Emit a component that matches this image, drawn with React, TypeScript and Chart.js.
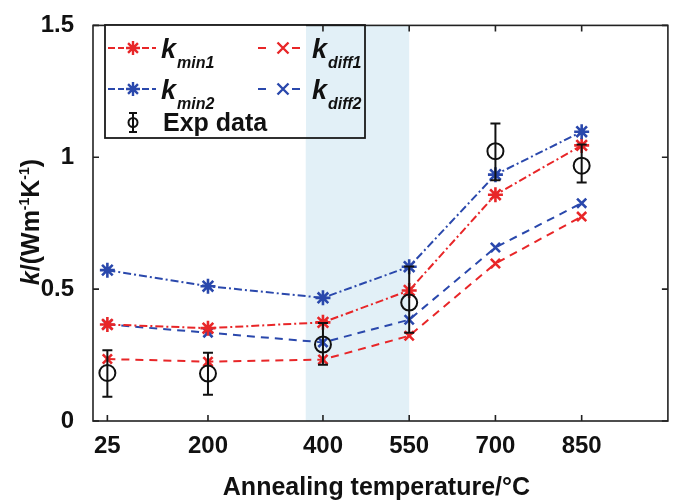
import React, { useEffect, useRef } from "react";
import { Chart, registerables } from "chart.js";

Chart.register(...registerables);

// Annealing temperatures (°C) and thermal conductivity values (W m^-1 K^-1)
const temperatures = [25, 200, 400, 550, 700, 850];
const kMin1 = [0.366, 0.352, 0.374, 0.495, 0.858, 1.045];
const kMin2 = [0.572, 0.511, 0.467, 0.585, 0.934, 1.097];
const kDiff1 = [0.235, 0.225, 0.233, 0.323, 0.597, 0.775];
const kDiff2 = [0.366, 0.335, 0.298, 0.384, 0.658, 0.826];
const expMean = [0.182, 0.18, 0.29, 0.449, 1.023, 0.968];
const expLow = [0.092, 0.1, 0.213, 0.335, 0.913, 0.904];
const expHigh = [0.268, 0.259, 0.372, 0.586, 1.128, 1.048];
const yTicks = [0, 0.5, 1, 1.5];
const shadedRange = [370, 550];

const FONT = "Arial, 'Liberation Sans', Helvetica, sans-serif";
const RED = "rgb(232, 38, 40)";
const BLUE = "rgb(42, 72, 172)";
const SHADE = "rgb(226, 240, 247)";
const INK = "#111111";
const DASH_DOT = [8, 3, 2, 3];
const DASHED = [8, 6];

const pts = (vals: number[]) => temperatures.map((t, i) => ({ x: t, y: vals[i] }));

function drawStar(ctx: CanvasRenderingContext2D, x: number, y: number, r: number, color: string) {
  ctx.save();
  ctx.strokeStyle = color;
  ctx.lineWidth = 2.4;
  ctx.setLineDash([]);
  ctx.beginPath();
  ctx.moveTo(x - r, y); ctx.lineTo(x + r, y);
  ctx.moveTo(x, y - r); ctx.lineTo(x, y + r);
  const d = r * 0.7071;
  ctx.moveTo(x - d, y - d); ctx.lineTo(x + d, y + d);
  ctx.moveTo(x - d, y + d); ctx.lineTo(x + d, y - d);
  ctx.stroke();
  ctx.restore();
}

function drawCross(ctx: CanvasRenderingContext2D, x: number, y: number, r: number, color: string) {
  ctx.save();
  ctx.strokeStyle = color;
  ctx.lineWidth = 2.4;
  ctx.setLineDash([]);
  ctx.beginPath();
  ctx.moveTo(x - r, y - r); ctx.lineTo(x + r, y + r);
  ctx.moveTo(x - r, y + r); ctx.lineTo(x + r, y - r);
  ctx.stroke();
  ctx.restore();
}

// k with an italic subscript, as used by the legend entries
function drawKLabel(ctx: CanvasRenderingContext2D, x: number, baseline: number, sub: string) {
  ctx.save();
  ctx.fillStyle = INK;
  ctx.textAlign = "left";
  ctx.textBaseline = "alphabetic";
  ctx.font = `italic bold 27px ${FONT}`;
  ctx.fillText("k", x, baseline);
  const w = ctx.measureText("k").width;
  ctx.font = `italic bold 16px ${FONT}`;
  ctx.fillText(sub, x + w + 1, baseline + 10);
  ctx.restore();
}

const decorPlugin = {
  id: "decor",
  beforeDatasetsDraw(chart: any) {
    const { ctx, chartArea: a, scales } = chart;
    const x0 = scales.x.getPixelForValue(shadedRange[0]);
    const x1 = scales.x.getPixelForValue(shadedRange[1]);
    ctx.save();
    ctx.fillStyle = SHADE;
    ctx.fillRect(x0, a.top, x1 - x0, a.bottom - a.top);
    ctx.restore();
  },
  afterDatasetsDraw(chart: any) {
    const { ctx, scales } = chart;
    ctx.save();
    ctx.strokeStyle = INK;
    ctx.lineWidth = 2;
    ctx.setLineDash([]);
    temperatures.forEach((t, i) => {
      const px = scales.x.getPixelForValue(t);
      const yl = scales.y.getPixelForValue(expLow[i]);
      const yh = scales.y.getPixelForValue(expHigh[i]);
      ctx.beginPath();
      ctx.moveTo(px, yl); ctx.lineTo(px, yh);
      ctx.moveTo(px - 5, yl); ctx.lineTo(px + 5, yl);
      ctx.moveTo(px - 5, yh); ctx.lineTo(px + 5, yh);
      ctx.stroke();
    });
    ctx.restore();
  },
  afterDraw(chart: any) {
    const { ctx, chartArea: a, scales } = chart;
    ctx.save();

    // axes box with inward ticks
    ctx.strokeStyle = "#222";
    ctx.lineWidth = 1.6;
    ctx.setLineDash([]);
    ctx.strokeRect(a.left, a.top, a.right - a.left, a.bottom - a.top);
    ctx.beginPath();
    temperatures.forEach((t) => {
      const px = scales.x.getPixelForValue(t);
      ctx.moveTo(px, a.bottom); ctx.lineTo(px, a.bottom - 6);
      ctx.moveTo(px, a.top); ctx.lineTo(px, a.top + 6);
    });
    yTicks.forEach((v) => {
      const py = scales.y.getPixelForValue(v);
      ctx.moveTo(a.left, py); ctx.lineTo(a.left + 6, py);
      ctx.moveTo(a.right, py); ctx.lineTo(a.right - 6, py);
    });
    ctx.stroke();

    // legend
    const lx = 105, ly = 25, lw = 260, lh = 113;
    ctx.fillStyle = "#ffffff";
    ctx.fillRect(lx, ly, 201, lh);
    ctx.strokeStyle = "#1a1a1a";
    ctx.lineWidth = 1.8;
    ctx.strokeRect(lx, ly, lw, lh);

    const entries = [
      { x0: 108, x1: 156, mx: 133, y: 48, color: RED, star: true, sub: "min1", tx: 161 },
      { x0: 108, x1: 156, mx: 133, y: 89, color: BLUE, star: true, sub: "min2", tx: 161 },
      { x0: 258, x1: 307, mx: 283, y: 48, color: RED, star: false, sub: "diff1", tx: 312 },
      { x0: 258, x1: 307, mx: 283, y: 89, color: BLUE, star: false, sub: "diff2", tx: 312 },
    ];
    entries.forEach((e) => {
      ctx.save();
      ctx.strokeStyle = e.color;
      ctx.lineWidth = 2;
      ctx.setLineDash(e.star ? [7, 3] : [8, 8]);
      ctx.beginPath();
      ctx.moveTo(e.x0, e.y); ctx.lineTo(e.mx - 9, e.y);
      ctx.moveTo(e.mx + 9, e.y); ctx.lineTo(e.x1, e.y);
      ctx.stroke();
      ctx.restore();
      if (e.star) drawStar(ctx, e.mx, e.y, 7, e.color);
      else drawCross(ctx, e.mx, e.y, 5.5, e.color);
      drawKLabel(ctx, e.tx, e.y + 10, e.sub);
    });

    // experimental data legend marker
    ctx.strokeStyle = INK;
    ctx.lineWidth = 2;
    ctx.setLineDash([]);
    ctx.beginPath();
    ctx.moveTo(133, 113); ctx.lineTo(133, 132);
    ctx.moveTo(129, 113); ctx.lineTo(137, 113);
    ctx.moveTo(129, 132); ctx.lineTo(137, 132);
    ctx.stroke();
    ctx.beginPath();
    ctx.arc(133, 122.5, 4.5, 0, Math.PI * 2);
    ctx.stroke();
    ctx.fillStyle = INK;
    ctx.font = `bold 25px ${FONT}`;
    ctx.textAlign = "left";
    ctx.textBaseline = "alphabetic";
    ctx.fillText("Exp data", 163, 131);

    // x-axis title
    ctx.font = `bold 25px ${FONT}`;
    ctx.textAlign = "center";
    ctx.textBaseline = "middle";
    ctx.fillText("Annealing temperature/°C", (a.left + a.right) / 2 - 4, 488);

    // y-axis title: k/(Wm^-1K^-1)
    const parts = [
      { t: "k", f: `italic bold 25px ${FONT}`, dy: 0 },
      { t: "/(Wm", f: `bold 25px ${FONT}`, dy: 0 },
      { t: "-1", f: `bold 14px ${FONT}`, dy: -10 },
      { t: "K", f: `bold 25px ${FONT}`, dy: 0 },
      { t: "-1", f: `bold 14px ${FONT}`, dy: -10 },
      { t: ")", f: `bold 25px ${FONT}`, dy: 0 },
    ];
    let total = 0;
    parts.forEach((p) => { ctx.font = p.f; total += ctx.measureText(p.t).width; });
    ctx.translate(39, 222);
    ctx.rotate(-Math.PI / 2);
    ctx.textAlign = "left";
    ctx.textBaseline = "alphabetic";
    let cx = -total / 2;
    parts.forEach((p) => {
      ctx.font = p.f;
      ctx.fillText(p.t, cx, p.dy);
      cx += ctx.measureText(p.t).width;
    });
    ctx.restore();
  },
};

export default function App() {
  const canvasRef = useRef<HTMLCanvasElement | null>(null);

  useEffect(() => {
    document.body.style.margin = "0";
    const canvas = canvasRef.current;
    if (!canvas) return;
    const tickFont = { family: FONT, size: 24, weight: "bold" as const };
    const chart = new Chart(canvas, {
      type: "line",
      data: {
        datasets: [
          {
            label: "Exp data",
            data: pts(expMean),
            showLine: false,
            pointStyle: "circle",
            pointRadius: 8,
            pointBorderWidth: 2,
            pointBorderColor: INK,
            pointBackgroundColor: "rgba(0,0,0,0)",
            order: 0,
          },
          {
            label: "k_min2",
            data: pts(kMin2),
            borderColor: BLUE,
            borderWidth: 2,
            borderDash: DASH_DOT,
            pointStyle: "star",
            pointRadius: 7.5,
            pointBorderWidth: 2.6,
            pointBorderColor: BLUE,
            backgroundColor: BLUE,
            order: 1,
          },
          {
            label: "k_min1",
            data: pts(kMin1),
            borderColor: RED,
            borderWidth: 2,
            borderDash: DASH_DOT,
            pointStyle: "star",
            pointRadius: 7.5,
            pointBorderWidth: 2.6,
            pointBorderColor: RED,
            backgroundColor: RED,
            order: 2,
          },
          {
            label: "k_diff2",
            data: pts(kDiff2),
            borderColor: BLUE,
            borderWidth: 2,
            borderDash: DASHED,
            pointStyle: "crossRot",
            pointRadius: 6.5,
            pointBorderWidth: 2.6,
            pointBorderColor: BLUE,
            backgroundColor: BLUE,
            order: 3,
          },
          {
            label: "k_diff1",
            data: pts(kDiff1),
            borderColor: RED,
            borderWidth: 2,
            borderDash: DASHED,
            pointStyle: "crossRot",
            pointRadius: 6.5,
            pointBorderWidth: 2.6,
            pointBorderColor: RED,
            backgroundColor: RED,
            order: 4,
          },
        ],
      },
      options: {
        responsive: false,
        animation: false,
        layout: { padding: { top: 14, right: 6, left: 0, bottom: 0 } },
        plugins: { legend: { display: false }, tooltip: { enabled: false } },
        scales: {
          x: {
            type: "linear",
            min: 0,
            max: 1000,
            grid: { display: false },
            border: { display: false },
            afterBuildTicks: (s: any) => {
              s.ticks = temperatures.map((v) => ({ value: v }));
            },
            afterFit: (s: any) => {
              s.height = 80;
            },
            ticks: {
              font: tickFont,
              color: INK,
              padding: 3,
              maxRotation: 0,
              autoSkip: false,
              callback: (v: any) => String(v),
            },
          },
          y: {
            min: 0,
            max: 1.5,
            grid: { display: false },
            border: { display: false },
            afterBuildTicks: (s: any) => {
              s.ticks = yTicks.map((v) => ({ value: v }));
            },
            afterFit: (s: any) => {
              s.width = 93;
            },
            ticks: {
              font: tickFont,
              color: INK,
              padding: 11,
              callback: (v: any) => String(v),
            },
          },
        },
      },
      plugins: [decorPlugin],
    });
    return () => chart.destroy();
  }, []);

  return <canvas ref={canvasRef} width={678} height={501} style={{ display: "block" }} />;
}
